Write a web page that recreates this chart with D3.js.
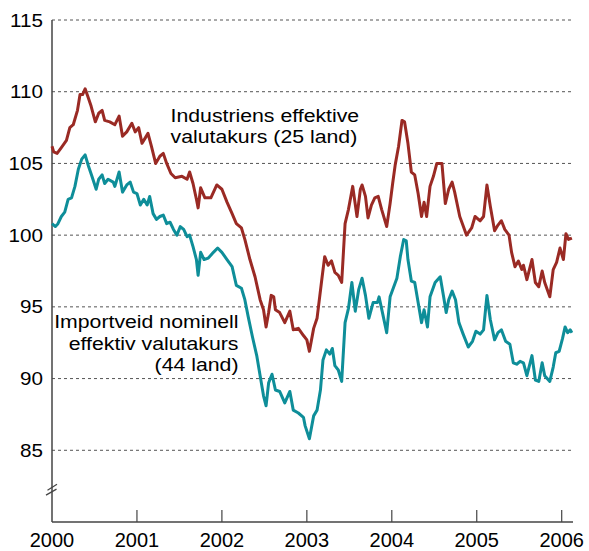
<!DOCTYPE html>
<html>
<head>
<meta charset="utf-8">
<script src="https://cdn.jsdelivr.net/npm/d3@7/dist/d3.min.js"></script>
<style>
  body { margin: 0; background: #fff; }
  svg text { font-family: "Liberation Sans", Arial, sans-serif; fill: #000; }
</style>
</head>
<body>
<div id="root"></div>
<script>
var w = 589,
    h = 551;

// y ticks and x ticks
var yTicks = [85, 90, 95, 100, 105, 110, 115];
var xYears = [2000, 2001, 2002, 2003, 2004, 2005, 2006];

// Industriens effektive valutakurs (25 land), [år, verdi]
var industri = [
  [2000.00, 106.2], [2000.02, 105.8], [2000.06, 105.7], [2000.11, 106.1], [2000.17, 106.6],
  [2000.21, 107.5], [2000.25, 107.7], [2000.30, 108.7], [2000.33, 109.8], [2000.36, 109.8],
  [2000.39, 110.2], [2000.42, 109.7], [2000.46, 109.0], [2000.51, 107.9], [2000.55, 108.5],
  [2000.59, 108.7], [2000.62, 108.0], [2000.68, 107.9], [2000.74, 107.7], [2000.79, 108.3],
  [2000.83, 106.9], [2000.88, 107.2], [2000.94, 107.8], [2000.98, 107.2], [2001.02, 107.5],
  [2001.06, 106.4], [2001.10, 106.8], [2001.13, 107.1], [2001.17, 106.2], [2001.22, 105.0],
  [2001.27, 105.5], [2001.31, 105.7], [2001.35, 105.0], [2001.40, 104.3], [2001.45, 104.0],
  [2001.53, 104.1], [2001.59, 103.9], [2001.62, 104.4], [2001.66, 103.6], [2001.70, 102.5],
  [2001.72, 101.9], [2001.75, 103.3], [2001.80, 102.6], [2001.87, 102.6], [2001.94, 103.5],
  [2002.00, 103.2], [2002.06, 102.3], [2002.12, 101.5], [2002.17, 100.8], [2002.23, 100.5],
  [2002.27, 99.7], [2002.33, 98.3], [2002.39, 97.1], [2002.45, 95.5], [2002.49, 94.8],
  [2002.52, 93.6], [2002.55, 94.6], [2002.58, 95.8], [2002.61, 95.7], [2002.63, 94.8],
  [2002.68, 94.6], [2002.74, 93.9], [2002.80, 94.7], [2002.84, 93.4], [2002.90, 93.5],
  [2002.96, 93.0], [2003.00, 92.7], [2003.03, 91.9], [2003.08, 93.5], [2003.12, 94.2],
  [2003.18, 97.1], [2003.21, 98.5], [2003.25, 97.9], [2003.29, 98.2], [2003.33, 97.4],
  [2003.37, 97.2], [2003.41, 96.7], [2003.45, 100.8], [2003.49, 101.8], [2003.54, 103.4],
  [2003.59, 101.3], [2003.63, 103.2], [2003.65, 103.5], [2003.69, 102.7], [2003.72, 101.2],
  [2003.76, 102.1], [2003.80, 102.6], [2003.84, 102.7], [2003.88, 101.8], [2003.94, 100.6],
  [2003.98, 102.2], [2004.01, 103.6], [2004.04, 104.9], [2004.08, 106.2], [2004.12, 108.0],
  [2004.15, 107.9], [2004.19, 106.4], [2004.23, 104.4], [2004.27, 104.2], [2004.31, 102.9],
  [2004.35, 101.3], [2004.38, 102.3], [2004.41, 101.3], [2004.45, 103.4], [2004.49, 104.1],
  [2004.53, 105.0], [2004.59, 105.0], [2004.63, 102.2], [2004.67, 103.2], [2004.71, 103.7],
  [2004.74, 103.0], [2004.80, 101.3], [2004.88, 100.0], [2004.94, 100.5], [2004.98, 101.3],
  [2005.04, 101.0], [2005.08, 101.3], [2005.12, 103.5], [2005.16, 102.0], [2005.21, 100.3],
  [2005.25, 100.7], [2005.29, 101.0], [2005.33, 100.4], [2005.38, 100.0], [2005.41, 98.8],
  [2005.45, 97.8], [2005.49, 98.2], [2005.53, 97.6], [2005.55, 97.9], [2005.59, 96.9],
  [2005.65, 98.3], [2005.69, 96.7], [2005.73, 96.4], [2005.77, 97.5], [2005.80, 96.7],
  [2005.86, 95.7], [2005.90, 97.6], [2005.94, 98.1], [2005.98, 99.1], [2006.02, 98.3],
  [2006.05, 100.1], [2006.08, 99.7], [2006.12, 99.8]
];

// Importveid nominell effektiv valutakurs (44 land), [år, verdi]
var importveid = [
  [2000.00, 100.8], [2000.04, 100.6], [2000.07, 100.8], [2000.11, 101.3], [2000.15, 101.6],
  [2000.19, 102.5], [2000.23, 102.6], [2000.27, 103.4], [2000.31, 104.6], [2000.35, 105.3],
  [2000.39, 105.6], [2000.43, 104.8], [2000.47, 104.1], [2000.52, 103.2], [2000.55, 103.9],
  [2000.59, 104.2], [2000.62, 103.6], [2000.66, 103.9], [2000.72, 103.7], [2000.74, 103.4],
  [2000.79, 104.4], [2000.83, 103.0], [2000.88, 103.5], [2000.92, 103.7], [2000.96, 103.0],
  [2001.00, 102.9], [2001.04, 102.1], [2001.08, 102.5], [2001.12, 102.1], [2001.15, 102.7],
  [2001.19, 101.5], [2001.23, 101.1], [2001.27, 101.3], [2001.31, 101.4], [2001.35, 100.8],
  [2001.39, 100.9], [2001.43, 100.4], [2001.47, 100.0], [2001.51, 100.6], [2001.55, 100.4],
  [2001.59, 99.9], [2001.62, 100.0], [2001.66, 99.2], [2001.70, 98.3], [2001.72, 97.2],
  [2001.75, 98.8], [2001.79, 98.3], [2001.84, 98.4], [2001.90, 98.8], [2001.95, 99.1],
  [2002.00, 98.8], [2002.06, 98.3], [2002.12, 97.8], [2002.17, 96.5], [2002.23, 96.3],
  [2002.27, 95.5], [2002.31, 94.3], [2002.36, 92.9], [2002.41, 91.6], [2002.45, 90.2],
  [2002.49, 88.8], [2002.52, 88.1], [2002.55, 89.7], [2002.59, 90.3], [2002.63, 89.2],
  [2002.68, 89.1], [2002.74, 88.3], [2002.80, 89.1], [2002.84, 87.8], [2002.90, 87.6],
  [2002.96, 87.3], [2002.98, 86.7], [2003.03, 85.8], [2003.08, 87.4], [2003.12, 87.8],
  [2003.16, 89.2], [2003.19, 91.3], [2003.23, 92.0], [2003.27, 91.7], [2003.30, 92.1],
  [2003.33, 90.9], [2003.37, 90.6], [2003.41, 89.8], [2003.45, 93.9], [2003.49, 94.9],
  [2003.53, 96.7], [2003.57, 94.7], [2003.61, 96.2], [2003.65, 97.0], [2003.69, 95.8],
  [2003.73, 94.2], [2003.78, 95.3], [2003.83, 95.3], [2003.85, 95.7], [2003.89, 94.6],
  [2003.94, 93.2], [2003.98, 95.7], [2004.06, 97.0], [2004.10, 98.5], [2004.14, 99.7],
  [2004.17, 99.6], [2004.19, 98.3], [2004.23, 96.8], [2004.27, 96.7], [2004.31, 95.3],
  [2004.35, 93.9], [2004.38, 94.8], [2004.42, 93.6], [2004.45, 95.7], [2004.51, 96.7],
  [2004.57, 97.1], [2004.61, 95.7], [2004.64, 94.6], [2004.67, 95.5], [2004.71, 96.1],
  [2004.75, 95.5], [2004.79, 93.9], [2004.84, 93.1], [2004.90, 92.2], [2004.95, 92.6],
  [2004.99, 93.3], [2005.04, 93.1], [2005.08, 93.4], [2005.12, 95.8], [2005.16, 94.1],
  [2005.21, 92.7], [2005.25, 93.2], [2005.29, 93.4], [2005.34, 92.6], [2005.39, 92.4],
  [2005.43, 91.1], [2005.47, 91.0], [2005.51, 91.2], [2005.55, 91.1], [2005.59, 90.2],
  [2005.65, 91.6], [2005.69, 89.9], [2005.73, 89.8], [2005.77, 91.1], [2005.80, 90.2],
  [2005.86, 89.8], [2005.90, 90.8], [2005.93, 91.8], [2005.97, 91.9], [2006.01, 92.8],
  [2006.04, 93.6], [2006.07, 93.2], [2006.10, 93.4], [2006.12, 93.2]
];

var serier = [
  { navn: 'industri', farge: '#9a2a24', data: industri },
  { navn: 'importveid', farge: '#0e8e99', data: importveid }
];

var svg = d3.select('#root')
  .append('svg')
    .attr('width', w)
    .attr('height', h);

var x = d3.scaleLinear()
    .domain([2000, 2006.133])
    .range([52, 573]);

var y = d3.scaleLinear()
    .domain([80, 115])
    .range([522, 20]);

// dashed gridlines
svg.selectAll('.grid')
    .data(yTicks)
  .enter().append('line')
    .attr('class', 'grid')
    .attr('x1', x(2000))
    .attr('x2', x.range()[1])
    .attr('y1', function (d) { return y(d); })
    .attr('y2', function (d) { return y(d); })
    .attr('stroke', '#555')
    .attr('stroke-width', 1)
    .attr('stroke-dasharray', '3,3');

// y labels (text looks stretched wide in the original)
svg.selectAll('.ylab')
    .data(yTicks)
  .enter().append('text')
    .attr('class', 'ylab')
    .attr('transform', function (d) {
      return 'translate(43,' + (y(d) + 6.5) + ') scale(1.18,1)';
    })
    .attr('text-anchor', 'end')
    .style('font-size', '17.5px')
    .text(function (d) { return d; });

// axes lines
svg.append('line')
    .attr('x1', x(2000)).attr('x2', x(2000))
    .attr('y1', y(115)).attr('y2', y(80))
    .attr('stroke', '#444')
    .attr('stroke-width', 1.5);

svg.append('line')
    .attr('x1', x(2000)).attr('x2', x.range()[1])
    .attr('y1', y(80)).attr('y2', y(80))
    .attr('stroke', '#444')
    .attr('stroke-width', 1.5);

// axis break marks
var brudd = [0, 1];
svg.selectAll('.brudd')
    .data(brudd)
  .enter().append('line')
    .attr('class', 'brudd')
    .attr('x1', function (d) { return x(2000) - 4.5 - d * 1.5; })
    .attr('x2', function (d) { return x(2000) + 5 - d * 0.5; })
    .attr('y1', function (d) { return y(82.5) + 4 + d * 5; })
    .attr('y2', function (d) { return y(82.5) - 2 + d * 5; })
    .attr('stroke', '#444')
    .attr('stroke-width', 1.2);

// year ticks, pointing up from the axis
svg.selectAll('.xtick')
    .data(xYears.slice(1))
  .enter().append('line')
    .attr('class', 'xtick')
    .attr('x1', function (d) { return x(d); })
    .attr('x2', function (d) { return x(d); })
    .attr('y1', y(80))
    .attr('y2', y(80) - 12)
    .attr('stroke', '#444')
    .attr('stroke-width', 1.2);

svg.selectAll('.xlab')
    .data(xYears)
  .enter().append('text')
    .attr('class', 'xlab')
    .attr('x', function (d) { return x(d); })
    .attr('y', 547)
    .attr('text-anchor', 'middle')
    .style('font-size', '20px')
    .text(function (d) { return d; });

var line = d3.line()
    .x(function (d) { return x(d[0]); })
    .y(function (d) { return y(d[1]); });

svg.selectAll('.serie')
    .data(serier)
  .enter().append('path')
    .attr('class', 'serie')
    .attr('d', function (d) { return line(d.data); })
    .attr('fill', 'none')
    .attr('stroke', function (d) { return d.farge; })
    .attr('stroke-width', 3)
    .attr('stroke-linejoin', 'round');

// labels
function etikett(linjer, xPos, yPos, anchor) {
  var g = svg.append('g')
      .attr('transform', 'translate(' + xPos + ',' + yPos + ') scale(1.15,1)');
  g.selectAll('text')
      .data(linjer)
    .enter().append('text')
      .attr('x', 0)
      .attr('y', function (d, i) { return i * 21.7; })
      .attr('text-anchor', anchor)
      .style('font-size', '18.5px')
      .text(function (d) { return d; });
}

etikett(['Industriens effektive', 'valutakurs (25 land)'], 170.5, 121.5, 'start');
etikett(['Importveid nominell', 'effektiv valutakurs', '(44 land)'], 238.5, 328, 'end');
</script>
</body>
</html>
